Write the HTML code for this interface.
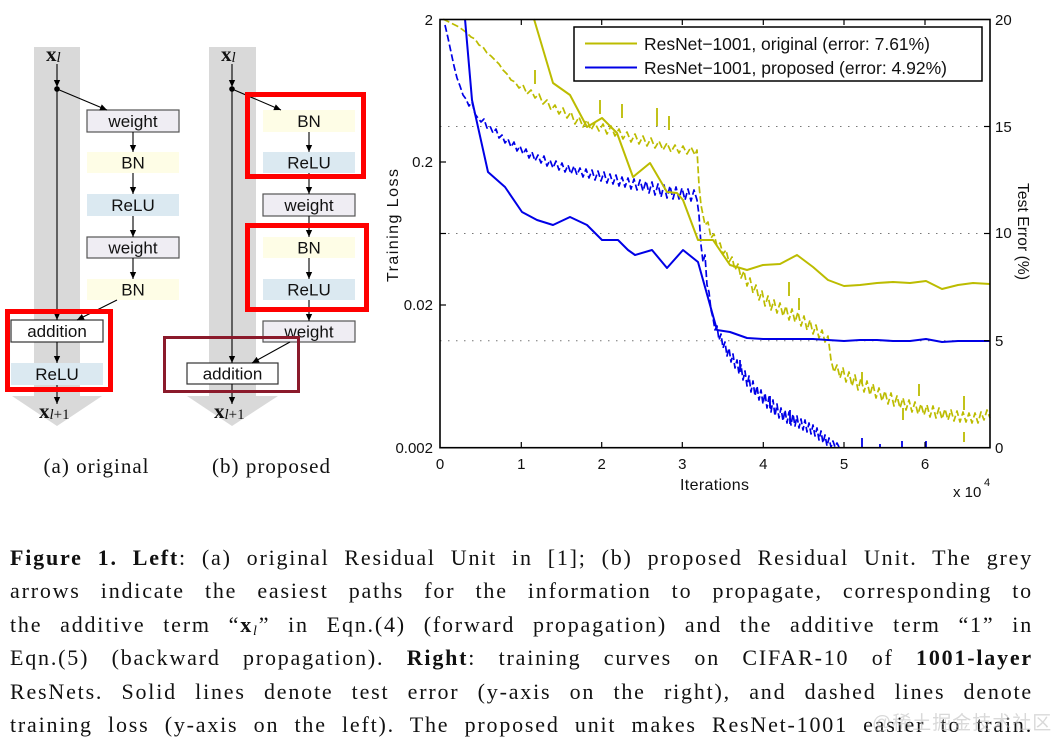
<!DOCTYPE html>
<html><head><meta charset="utf-8"><style>
html,body{margin:0;padding:0;background:#fff;}
body{width:1061px;height:752px;position:relative;overflow:hidden;}
svg{position:absolute;left:0;top:0;}
.cap{position:absolute;left:10px;top:541px;width:1023px;font-family:"Liberation Serif",serif;font-size:22px;letter-spacing:1.8px;color:#111;}
.cap div{height:33.4px;line-height:33.4px;text-align:justify;text-align-last:justify;white-space:normal;}
.cap sub{font-size:14px;vertical-align:-3px;line-height:0;}
.wm{position:absolute;left:872px;top:708px;font-family:"Liberation Sans","Noto Sans CJK SC",sans-serif;font-size:19px;color:#bbb;opacity:0.55;letter-spacing:1px;}
</style></head><body>
<svg width="1061" height="510" viewBox="0 0 1061 510" xmlns="http://www.w3.org/2000/svg">
<defs>
<marker id="ah" viewBox="0 0 10 10" refX="10" refY="5" markerWidth="8" markerHeight="7" markerUnits="userSpaceOnUse" orient="auto"><path d="M0,0.5 L10,5 L0,9.5 z" fill="#000"/></marker>
</defs>

<!-- ============ Diagram (a) ============ -->
<rect x="34" y="47" width="46" height="350" fill="#d9d9d9"/>
<polygon points="12,396 102,396 57,426" fill="#d9d9d9"/>
<g font-family="Liberation Sans, sans-serif" font-size="17" text-anchor="middle" fill="#111">
<rect x="87" y="110" width="92" height="22" fill="#efedf3" stroke="#555" stroke-width="1.2"/>
<text x="133" y="127">weight</text>
<rect x="87" y="152" width="92" height="21" fill="#fefde6"/>
<text x="133" y="168.5">BN</text>
<rect x="87" y="194" width="92" height="22" fill="#dbe9f1"/>
<text x="133" y="211">ReLU</text>
<rect x="87" y="237" width="92" height="21" fill="#efedf3" stroke="#555" stroke-width="1.2"/>
<text x="133" y="253.5">weight</text>
<rect x="87" y="279" width="92" height="21" fill="#fefde6"/>
<text x="133" y="295.5">BN</text>
<rect x="11" y="363" width="92" height="22" fill="#dbe9f1"/>
<text x="57" y="380">ReLU</text>
<rect x="11" y="320" width="92" height="22" fill="#fff" stroke="#333" stroke-width="1.2"/>
<text x="57" y="337">addition</text>
</g>
<g stroke="#000" stroke-width="1.1" fill="none">
<line x1="57" y1="64" x2="57" y2="87" marker-end="url(#ah)"/>
<line x1="57" y1="89" x2="57" y2="320" marker-end="url(#ah)"/>
<line x1="57" y1="89" x2="107" y2="110" marker-end="url(#ah)"/>
<line x1="133" y1="132" x2="133" y2="152" marker-end="url(#ah)"/>
<line x1="133" y1="173" x2="133" y2="194" marker-end="url(#ah)"/>
<line x1="133" y1="216" x2="133" y2="237" marker-end="url(#ah)"/>
<line x1="133" y1="258" x2="133" y2="279" marker-end="url(#ah)"/>
<line x1="117" y1="300" x2="77" y2="320" marker-end="url(#ah)"/>
<line x1="57" y1="342" x2="57" y2="363" marker-end="url(#ah)"/>
<line x1="57" y1="385" x2="57" y2="404" marker-end="url(#ah)"/>
</g>
<circle cx="57" cy="89" r="2.8" fill="#000"/>
<rect x="7.5" y="311.5" width="103" height="78" fill="none" stroke="#ff0000" stroke-width="5"/>
<text x="46" y="61" font-family="Liberation Serif, serif" font-size="21" fill="#111"><tspan font-weight="bold">x</tspan><tspan font-style="italic" font-size="15" dy="1">l</tspan></text>
<text x="39" y="418" font-family="Liberation Serif, serif" font-size="21" fill="#111"><tspan font-weight="bold">x</tspan><tspan font-size="15" dy="1"><tspan font-style="italic">l</tspan>+1</tspan></text>
<text x="96" y="473" font-family="Liberation Serif, serif" font-size="21" text-anchor="middle" textLength="105" fill="#111">(a) original</text>

<!-- ============ Diagram (b) ============ -->
<rect x="209" y="47" width="47" height="350" fill="#d9d9d9"/>
<polygon points="187,396 278,396 232,426" fill="#d9d9d9"/>
<g font-family="Liberation Sans, sans-serif" font-size="17" text-anchor="middle" fill="#111">
<rect x="263" y="110" width="92" height="22" fill="#fefde6"/>
<text x="309" y="127">BN</text>
<rect x="263" y="152" width="92" height="21" fill="#dbe9f1"/>
<text x="309" y="168.5">ReLU</text>
<rect x="263" y="194" width="92" height="22" fill="#efedf3" stroke="#555" stroke-width="1.2"/>
<text x="309" y="211">weight</text>
<rect x="263" y="237" width="92" height="21" fill="#fefde6"/>
<text x="309" y="253.5">BN</text>
<rect x="263" y="279" width="92" height="21" fill="#dbe9f1"/>
<text x="309" y="295.5">ReLU</text>
<rect x="263" y="321" width="92" height="21" fill="#efedf3" stroke="#555" stroke-width="1.2"/>
<text x="309" y="337.5">weight</text>
<rect x="187" y="363" width="91" height="21" fill="#fff" stroke="#333" stroke-width="1.2"/>
<text x="232.5" y="379.5">addition</text>
</g>
<g stroke="#000" stroke-width="1.1" fill="none">
<line x1="232" y1="64" x2="232" y2="87" marker-end="url(#ah)"/>
<line x1="232" y1="89" x2="232" y2="363" marker-end="url(#ah)"/>
<line x1="232" y1="89" x2="281" y2="110" marker-end="url(#ah)"/>
<line x1="309" y1="132" x2="309" y2="152" marker-end="url(#ah)"/>
<line x1="309" y1="173" x2="309" y2="194" marker-end="url(#ah)"/>
<line x1="309" y1="216" x2="309" y2="237" marker-end="url(#ah)"/>
<line x1="309" y1="258" x2="309" y2="279" marker-end="url(#ah)"/>
<line x1="309" y1="300" x2="309" y2="321" marker-end="url(#ah)"/>
<line x1="290" y1="342" x2="252" y2="363" marker-end="url(#ah)"/>
<line x1="232" y1="384" x2="232" y2="404" marker-end="url(#ah)"/>
</g>
<circle cx="232" cy="89" r="2.8" fill="#000"/>
<rect x="247.5" y="94.5" width="116" height="82" fill="none" stroke="#ff0000" stroke-width="5"/>
<rect x="247.5" y="225.5" width="119" height="84" fill="none" stroke="#ff0000" stroke-width="5"/>
<rect x="164.5" y="337.5" width="134" height="54" fill="none" stroke="#8b1a2b" stroke-width="3"/>
<text x="221" y="61" font-family="Liberation Serif, serif" font-size="21" fill="#111"><tspan font-weight="bold">x</tspan><tspan font-style="italic" font-size="15" dy="1">l</tspan></text>
<text x="214" y="418" font-family="Liberation Serif, serif" font-size="21" fill="#111"><tspan font-weight="bold">x</tspan><tspan font-size="15" dy="1"><tspan font-style="italic">l</tspan>+1</tspan></text>
<text x="271" y="473" font-family="Liberation Serif, serif" font-size="21" text-anchor="middle" textLength="118" fill="#111">(b) proposed</text>

<!-- ============ Chart ============ -->
<g stroke="#777" stroke-width="1" stroke-dasharray="1.5 6.5">
<line x1="440" y1="126.5" x2="990" y2="126.5"/>
<line x1="440" y1="233.5" x2="990" y2="233.5"/>
<line x1="440" y1="340.7" x2="990" y2="340.7"/>
</g>

<polyline fill="none" stroke="#bcbc00" stroke-width="1.7" stroke-dasharray="7 3" stroke-linejoin="round" points="443,19 447,21 451,23 455,25 459,27 463,30 467,33 471,37 475,39 479,45 483,47 487,53 491,56 495,60 499,64 503,70 507,74 511,80 515,82 519,88 523,85 527,94 531,90 535,98 539,94 543,104 547,100 551,110 555,105 559,114 563,108 567,118 571,112 575,124 579,117 583,127 587,120 591,130 595,123 599,131 603,124 607,134 611,126 615,136 619,129 623,139 627,132 631,142 635,134 639,144 643,136 647,146 651,138 655,148 659,141 663,150 667,143 671,152 675,145 679,153 683,146 687,154 691,147 695,155 697,150 699,185 701,205 703,215 705,225 708,222 711,238 714,234 717,246 720,243 723,254 726,250 729,262 732,257 735,270 738,264 741,278 744,271 747,286 750,278 753,293 756,285 759,300 762,291 765,306 768,296 771,310 774,300 777,313 780,303 783,316 786,306 789,320 792,309 795,322 798,312 801,326 804,316 807,330 810,320 813,334 816,325 819,338 822,330 825,342 828,336 831,360 834,372 837,365 840,378 843,368 846,382 849,372 852,386 855,375 858,390 861,378 864,392 867,381 870,395 873,384 876,398 879,388 882,401 885,391 888,404 891,393 894,406 897,396 900,408 903,398 906,410 909,400 912,412 915,402 918,414 921,404 924,415 927,405 930,417 933,406 936,418 939,408 942,419 945,409 948,420 951,410 954,421 957,411 960,422 963,412 966,422 969,413 972,423 975,413 978,423 981,412 984,420 987,410 990,418"/>
<g stroke="#bcbc00" stroke-width="1.8">
<line x1="535" y1="70" x2="535" y2="84"/><line x1="600" y1="100" x2="600" y2="114"/>
<line x1="622" y1="104" x2="622" y2="118"/><line x1="657" y1="108" x2="657" y2="126"/>
<line x1="669" y1="116" x2="669" y2="130"/><line x1="789" y1="282" x2="789" y2="296"/>
<line x1="799" y1="298" x2="799" y2="310"/><line x1="862" y1="372" x2="862" y2="384"/>
<line x1="919" y1="384" x2="919" y2="396"/><line x1="964" y1="396" x2="964" y2="410"/>
<line x1="964" y1="432" x2="964" y2="442"/><line x1="903" y1="408" x2="903" y2="420"/>
</g>

<polyline fill="none" stroke="#0000e6" stroke-width="1.7" stroke-dasharray="7 3" stroke-linejoin="round" points="445,25 448,38 451,52 454,66 457,78 460,86 463,95 466,99 469,106 472,102 475,114 478,118 481,122 484,119 487,128 490,126 493,133 496,129 499,138 502,135 505,143 508,139 511,147 514,142 517,151 520,146 523,154 526,149 529,158 532,152 535,161 538,155 541,163 544,156 547,166 550,160 553,168 556,161 559,170 562,163 565,172 568,165 571,174 574,166 577,175 580,168 583,177 586,169 589,178 592,170 595,180 598,171 601,181 604,172 607,183 610,174 613,184 616,175 619,186 622,177 625,187 628,178 631,189 634,179 637,190 640,180 643,191 646,181 649,193 652,182 655,195 658,184 661,197 664,185 667,198 670,186 673,199 676,187 679,199 682,188 685,200 688,189 691,201 694,190 697,200 699,215 701,245 703,262 705,255 707,285 709,292 711,310 713,318 715,330 717,326 719,340 721,334 723,348 725,342 727,356 729,348 731,362 733,354 735,368 737,360 739,374 741,365 743,380 745,371 747,386 749,376 751,392 753,381 755,396 757,386 759,400 761,390 763,404 765,393 767,408 769,397 771,412 773,400 775,416 777,404 779,418 781,408 783,421 785,410 787,423 789,412 791,425 793,414 795,426 797,416 799,428 801,419 803,430 805,420 807,432 809,423 811,434 813,425 815,436 817,428 819,440 821,431 823,443 825,435 827,446 829,438 831,447 833,441 835,447 837,443 839,447"/>
<g stroke="#0000e6" stroke-width="1.8">
<line x1="862" y1="438" x2="862" y2="447"/><line x1="902" y1="441" x2="902" y2="447"/>
<line x1="926" y1="441" x2="926" y2="447"/><line x1="880" y1="444" x2="880" y2="447"/>
<line x1="770" y1="396" x2="770" y2="408"/><line x1="790" y1="410" x2="790" y2="424"/>
<line x1="740" y1="360" x2="740" y2="372"/>
</g>

<polyline fill="none" stroke="#bcbc00" stroke-width="2" stroke-linejoin="round" points="534,19 553,83 570,95 587,127 602,118 617,133 633,177 650,163 667,192 677,193 683,200 698,240 713,240 730,265 747,270 763,265 780,264 797,255 813,267 828,280 844,286 860,285 877,283 893,282 910,283 926,281 942,289 958,285 973,283 990,284"/>
<polyline fill="none" stroke="#0000e6" stroke-width="2" stroke-linejoin="round" points="465,19 472,100 488,172 505,187 522,212 537,220 553,225 570,217 587,225 602,240 618,240 628,250 635,255 652,250 667,268 683,250 698,262 717,330 730,332 747,338 763,339 780,339 797,339 813,339 828,340 844,341 860,340 877,340 893,341 910,341 926,339 942,342 958,341 973,341 990,341"/>

<rect x="430" y="0" width="570" height="18.7" fill="#fff"/>

<rect x="440" y="19.5" width="550" height="428.2" fill="none" stroke="#000" stroke-width="1.6"/>
<g stroke="#000" stroke-width="1.2">
<line x1="521.3" y1="447.7" x2="521.3" y2="442"/><line x1="601.7" y1="447.7" x2="601.7" y2="442"/>
<line x1="682.3" y1="447.7" x2="682.3" y2="442"/><line x1="763.3" y1="447.7" x2="763.3" y2="442"/>
<line x1="844" y1="447.7" x2="844" y2="442"/><line x1="925" y1="447.7" x2="925" y2="442"/>
<line x1="521.3" y1="19.5" x2="521.3" y2="25"/><line x1="601.7" y1="19.5" x2="601.7" y2="25"/>
<line x1="682.3" y1="19.5" x2="682.3" y2="25"/><line x1="763.3" y1="19.5" x2="763.3" y2="25"/>
<line x1="844" y1="19.5" x2="844" y2="25"/><line x1="925" y1="19.5" x2="925" y2="25"/>
<line x1="440" y1="162" x2="446" y2="162"/><line x1="440" y1="233.5" x2="446" y2="233.5"/>
<line x1="440" y1="305" x2="446" y2="305"/>
<line x1="990" y1="126.5" x2="984" y2="126.5"/><line x1="990" y1="233.5" x2="984" y2="233.5"/>
<line x1="990" y1="340.7" x2="984" y2="340.7"/>
</g>

<rect x="574" y="27" width="408" height="54" fill="#fff" stroke="#000" stroke-width="1.5"/>
<line x1="585" y1="43.5" x2="637" y2="43.5" stroke="#bcbc00" stroke-width="2"/>
<line x1="585" y1="67.5" x2="637" y2="67.5" stroke="#0000e6" stroke-width="2"/>
<g font-family="Liberation Sans, sans-serif" font-size="17.5" fill="#111">
<text x="644" y="50" textLength="286" lengthAdjust="spacingAndGlyphs">ResNet−1001, original (error: 7.61%)</text>
<text x="644" y="74" textLength="303" lengthAdjust="spacingAndGlyphs">ResNet−1001, proposed (error: 4.92%)</text>
</g>

<g font-family="Liberation Sans, sans-serif" font-size="15" fill="#111">
<g text-anchor="end">
<text x="433" y="25">2</text>
<text x="433" y="167">0.2</text>
<text x="433" y="310">0.02</text>
<text x="433" y="453">0.002</text>
</g>
<g text-anchor="start">
<text x="995" y="25">20</text>
<text x="995" y="132">15</text>
<text x="995" y="238">10</text>
<text x="995" y="346">5</text>
<text x="995" y="453">0</text>
</g>
<g text-anchor="middle">
<text x="440" y="469">0</text>
<text x="521.3" y="469">1</text>
<text x="601.7" y="469">2</text>
<text x="682.3" y="469">3</text>
<text x="763.3" y="469">4</text>
<text x="844" y="469">5</text>
<text x="925" y="469">6</text>
</g>
<text x="714.5" y="490" text-anchor="middle" font-size="16" textLength="69">Iterations</text>
<text x="953" y="497" font-size="15">x 10</text>
<text x="984" y="486" font-size="11">4</text>
<text transform="translate(398,225.5) rotate(-90)" text-anchor="middle" font-size="16" textLength="113">Training Loss</text>
<text transform="translate(1018,231.5) rotate(90)" text-anchor="middle" font-size="15.5" textLength="97">Test Error (%)</text>
</g>
</svg>

<div class="cap">
<div><b>Figure 1. Left</b>: (a) original Residual Unit in [1]; (b) proposed Residual Unit. The grey</div>
<div>arrows indicate the easiest paths for the information to propagate, corresponding to</div>
<div>the additive term “<b>x</b><sub><i>l</i></sub>” in Eqn.(4) (forward propagation) and the additive term “1” in</div>
<div>Eqn.(5) (backward propagation). <b>Right</b>: training curves on CIFAR-10 of <b>1001-layer</b></div>
<div>ResNets. Solid lines denote test error (y-axis on the right), and dashed lines denote</div>
<div>training loss (y-axis on the left). The proposed unit makes ResNet-1001 easier to train.</div>
</div>
<div class="wm">@稀土掘金技术社区</div>
</body></html>
